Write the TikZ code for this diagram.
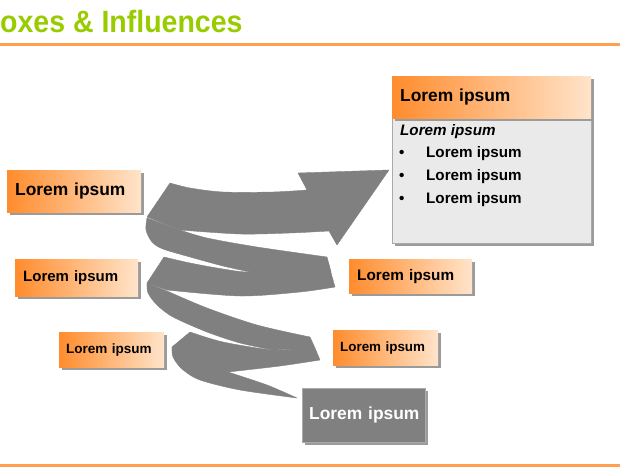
\documentclass[tikz,border=0pt]{standalone}
\usepackage{fontspec}
\setmainfont{Liberation Sans}
\usetikzlibrary{shadows}
\definecolor{orL}{RGB}{255,140,45}
\definecolor{orR}{RGB}{255,228,202}
\definecolor{rib}{RGB}{128,128,128}
\definecolor{shd}{RGB}{155,155,155}
\definecolor{ttl}{RGB}{153,204,0}
\definecolor{rulec}{RGB}{255,160,80}
\definecolor{bodyc}{RGB}{234,234,234}
\definecolor{bodyline}{RGB}{170,170,170}
\tikzset{
  shadowed/.style={drop shadow={shadow xshift=2.5pt, shadow yshift=-2.5pt, fill=shd, opacity=1}},
  obox/.style={shadowed, left color=orL, right color=orR, draw=none, inner xsep=8pt, inner ysep=0pt,
    anchor=north west, text=black, align=left},
  gbox/.style={shadowed, fill=rib, draw=bodyline, line width=0.4pt, inner xsep=7pt, inner ysep=0pt,
    anchor=north west, text=white, align=left},
  ribbon/.style={fill=rib, draw=rib, line width=0.4pt, line join=round},
  rulestyle/.style={draw=rulec, line width=3pt},
  bodytext/.style={anchor=west, inner sep=0pt, font=\bfseries\fontsize{15.2}{18}\selectfont}
}
\begin{document}
\begin{tikzpicture}[x=1pt,y=-1pt]
\useasboundingbox (0,0) rectangle (620,468);

% title and rules
\node[anchor=base west, inner sep=0pt, text=ttl, font=\bfseries\fontsize{28.5}{32}\selectfont] (title) at (0,33) {\scalebox{1}[1.08]{oxes \& Influences}};
\coordinate (r1a) at (0,44.5); \coordinate (r1b) at (620,44.5);
\draw[rulestyle] (r1a) -- (r1b);
\coordinate (r2a) at (0,465.5); \coordinate (r2b) at (620,465.5);
\draw[rulestyle] (r2a) -- (r2b);

% ribbon (spiral arrow)
% B3 back band bottom
\fill[ribbon] plot[smooth] coordinates {(228,372) (267,385) (297,398)}
  -- plot[smooth] coordinates {(297,398) (240,390) (200,380) (182,369) (173,357) (172,347)} -- cycle;
% F3 front strip
\fill[ribbon] (172,347) -- (190,332) -- plot[smooth] coordinates {(190,332) (223,342) (273,350) (300,348)}
  -- (315,348) -- (320,360) -- plot[smooth] coordinates {(320,360) (280,366) (228,372)} -- cycle;
% B2 back band
\fill[ribbon] plot[smooth] coordinates {(167,291) (207,308) (257,325) (310,337)}
  -- (315,348) -- plot[smooth] coordinates {(273,350) (240,343) (207,332) (173,317) (157,305) (148,293) (147,283)} -- cycle;
% F2 front strip
\fill[ribbon] (147,283) -- (164,257) -- plot[smooth] coordinates {(164,257) (190,263) (223,269) (250,272) (290,268)}
  -- (328,262) -- (335,287) -- plot[smooth] coordinates {(335,287) (300,292) (240,296) (167,290)} -- cycle;
% B1 back band
\fill[ribbon] plot[smooth] coordinates {(180,230) (207,238) (257,247) (327,257)}
  -- (331,272) -- plot[smooth] coordinates {(250,272) (223,266) (190,257) (163,249) (152,242) (146,230) (147,218)} -- cycle;
% F1 front strip with arrowhead
\fill[ribbon] (147,217) -- (170,183) -- plot[smooth] coordinates {(170,183) (190,188) (223,192) (273,192) (307,190)}
  -- (298,173) -- (389,170) -- (337,245) -- (329,231)
  -- plot[smooth] coordinates {(329,231) (290,233) (240,234) (180,230)} -- cycle;

% left boxes
\node[obox, text width=118pt, minimum height=42pt, font=\bfseries\fontsize{17.4}{20}\selectfont] (b1) at (7,170) {\mbox{Lorem ipsum}};
\node[obox, text width=107pt, minimum height=37pt, font=\bfseries\fontsize{15}{18}\selectfont] (b2) at (15,259) {\mbox{Lorem ipsum}};
\node[obox, inner xsep=7pt, text width=91pt, minimum height=35pt, font=\bfseries\fontsize{13.5}{16}\selectfont] (b3) at (59,332) {\mbox{Lorem ipsum}};

% right boxes
\node[obox, text width=107pt, minimum height=34pt, font=\bfseries\fontsize{15.3}{18}\selectfont] (b4) at (349,259) {\mbox{Lorem ipsum}};
\node[obox, inner xsep=7pt, text width=91pt, minimum height=35pt, font=\bfseries\fontsize{13.4}{16}\selectfont] (b5) at (333,330) {\mbox{Lorem ipsum}};
\node[gbox, text width=109pt, minimum height=54pt, font=\bfseries\fontsize{17.4}{20}\selectfont] (g) at (302,388) {\mbox{Lorem ipsum}};

% top right box
\node[shadowed, anchor=north west, fill=bodyc, draw=bodyline, line width=0.5pt, minimum width=199pt, minimum height=125pt, inner sep=0pt] (body) at (392,118) {};
\node[obox, text width=183pt, minimum height=42pt, font=\bfseries\fontsize{17.4}{20}\selectfont] (head) at (392,76) {\mbox{Lorem ipsum}};
\node[bodytext, font=\bfseries\itshape\fontsize{15.2}{18}\selectfont] (bt) at (400,131.5) {Lorem ipsum};
\node[bodytext] (l1) at (399,153.5) {\makebox[27pt][l]{•}Lorem ipsum};
\node[bodytext] (l2) at (399,176.5) {\makebox[27pt][l]{•}Lorem ipsum};
\node[bodytext] (l3) at (399,199.5) {\makebox[27pt][l]{•}Lorem ipsum};
\end{tikzpicture}
\end{document}
